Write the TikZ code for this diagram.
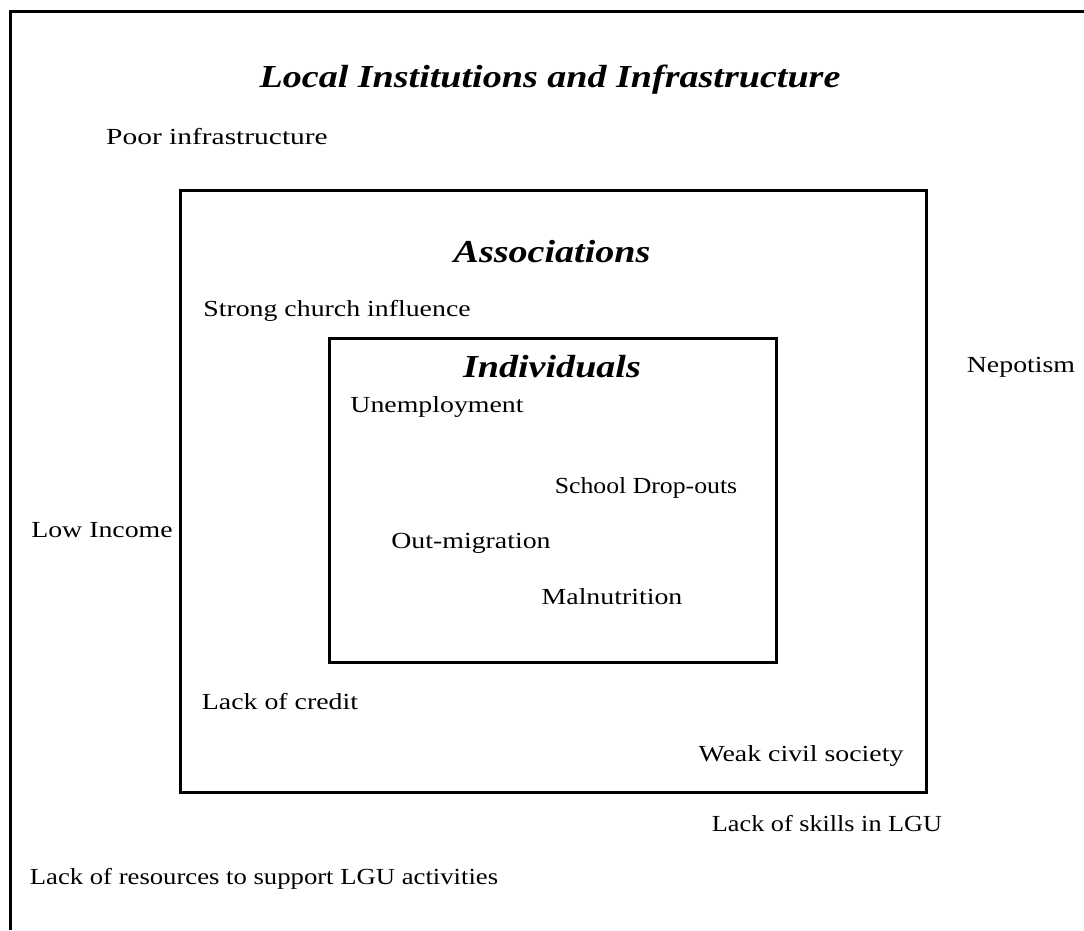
\documentclass[tikz,border=0pt]{standalone}
\usepackage{fontspec}
\setmainfont{Liberation Serif}
\newcommand{\wlbl}[2][1.21]{\scalebox{#1}[1]{#2}}
\newcommand{\wttl}[1]{\scalebox{1.19}[1]{#1}}
\begin{document}
\begin{tikzpicture}[x=1pt,y=1pt,
  frame/.style={draw=black,line width=3pt},
  boxnode/.style={draw=black,line width=3pt,inner sep=0pt,fill=none},
  ttl/.style={font=\fontsize{32}{36}\selectfont\bfseries\itshape,inner sep=0pt},
  lbl/.style={font=\fontsize{23}{27}\selectfont,inner sep=0pt}]
\useasboundingbox (0,0) rectangle (1084,930);
\fill[white] (0,0) rectangle (1084,930);
% outer frame (only top and left edges visible)
\coordinate (fbl) at (10,0);
\coordinate (ftl) at (10,918);
\coordinate (ftr) at (1084,918);
\draw[frame] (fbl) -- (ftl) -- (ftr);
% associations box
\node[boxnode,minimum width=746pt,minimum height=601pt] (assoc) at (553,438.5) {};
% individuals box
\node[boxnode,minimum width=447pt,minimum height=323pt] (indiv) at (552.5,429.5) {};
% titles
\node[ttl] (t1) at (550,850) {\wttl{Local Institutions and Infrastructure}};
\node[ttl] (t2) at (552,678) {\wttl{Associations}};
\node[ttl] (t3) at (552,563) {\wttl{Individuals}};
% labels
\node[lbl] (l1) at (217,793) {\wlbl[1.28]{Poor infrastructure}};
\node[lbl] (l2) at (337,619) {\wlbl{Strong church influence}};
\node[lbl] (l3) at (1021,563) {\wlbl{Nepotism}};
\node[lbl] (l4) at (437,523) {\wlbl{Unemployment}};
\node[lbl] (l5) at (646,442) {\wlbl[1.12]{School Drop-outs}};
\node[lbl] (l6) at (102,400) {\wlbl{Low Income}};
\node[lbl] (l7) at (471,387) {\wlbl{Out-migration}};
\node[lbl] (l8) at (612,333) {\wlbl{Malnutrition}};
\node[lbl] (l9) at (280,228) {\wlbl{Lack of credit}};
\node[lbl] (l10) at (801,174) {\wlbl{Weak civil society}};
\node[lbl] (l11) at (827,106) {\wlbl[1.14]{Lack of skills in LGU}};
\node[lbl] (l12) at (264,51) {\wlbl[1.16]{Lack of resources to support LGU activities}};
\end{tikzpicture}
\end{document}
